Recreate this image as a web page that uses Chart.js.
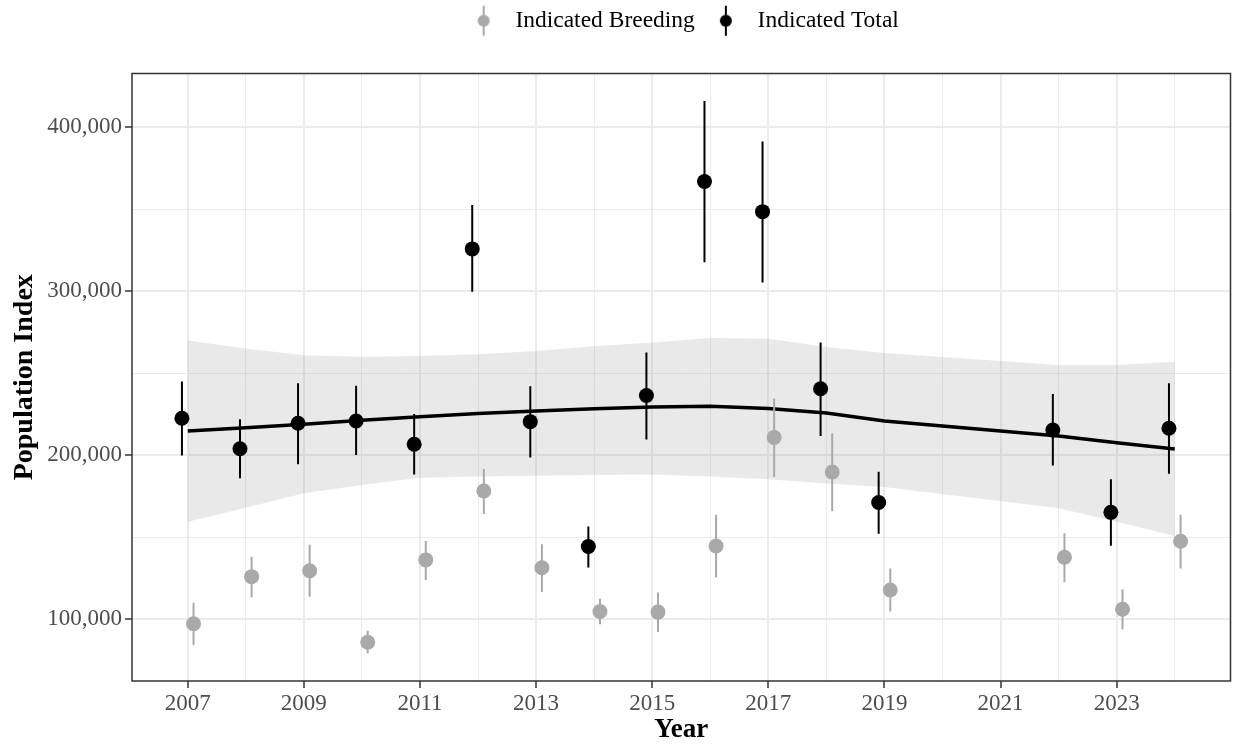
<!DOCTYPE html>
<html>
<head>
<meta charset="utf-8">
<script src="https://cdn.jsdelivr.net/npm/chart.js@4.4.1/dist/chart.umd.min.js"></script>
<style>
  html, body { margin: 0; padding: 0; background: #fff; }
  #wrap { width: 1238px; height: 744px; }
</style>
</head>
<body>
<div id="wrap"><canvas id="popChart"></canvas></div>
<script>
// years surveyed (no 2020, 2021)
const years = [2007, 2008, 2009, 2010, 2011, 2012, 2013, 2014, 2015, 2016, 2017, 2018, 2019, 2022, 2023, 2024];

// Indicated Total (thousands)
const totalIdx = [222.6, 204.0, 219.5, 220.9, 206.7, 325.8, 220.5, 144.4, 236.4, 366.9, 348.5, 240.5, 171.2, 215.4, 165.2, 216.5];
const totalLo  = [199.8, 186.0, 194.5, 200.2, 188.2, 299.6, 198.7, 131.6, 209.6, 317.6, 305.3, 211.8, 152.1, 193.7, 144.9, 188.8];
const totalHi  = [244.9, 222.0, 243.9, 242.3, 225.2, 352.6, 242.0, 156.6, 262.7, 415.9, 391.2, 268.8, 190.0, 237.4, 185.4, 243.9];

// Indicated Breeding (thousands)
const breedIdx = [97.3, 126.0, 129.6, 86.0, 136.2, 178.2, 131.4, 104.8, 104.4, 144.7, 210.9, 189.8, 117.9, 137.8, 106.1, 147.6];
const breedLo  = [84.3, 113.4, 113.8, 79.3, 124.0, 164.2, 116.6, 97.0, 92.2, 125.5, 186.7, 166.0, 104.8, 122.6, 93.9, 130.9];
const breedHi  = [110.1, 138.2, 145.5, 93.0, 147.7, 191.6, 145.8, 112.6, 116.3, 163.8, 234.6, 213.4, 131.0, 152.4, 118.3, 163.8];

// smoothed trend of the total + confidence band (thousands)
const trend   = [214.8, 216.8, 218.9, 221.3, 223.5, 225.4, 227.0, 228.3, 229.4, 229.8, 228.5, 225.7, 220.9, 211.8, 207.6, 203.8];
const trendLo = [159.5, 168.0, 176.8, 181.9, 186.3, 187.0, 187.5, 188.0, 188.2, 187.1, 185.4, 182.8, 180.6, 167.7, 159.5, 150.8];
const trendHi = [270.0, 265.0, 261.0, 260.0, 260.5, 261.5, 263.5, 266.5, 268.8, 271.5, 271.0, 266.0, 262.3, 255.0, 255.0, 257.0];

// axis ticks
const xTicks = [2007, 2008, 2009, 2010, 2011, 2012, 2013, 2014, 2015, 2016, 2017, 2018, 2019, 2020, 2021, 2022, 2023, 2024];
const yTicks = [100000, 150000, 200000, 250000, 300000, 350000, 400000];

const K = 1000;
const dodge = 0.1;
const GREY = '#A9A9A9';
const FONT = 'Liberation Serif';

// helpers
const pts = (vals, off) => years.map((yr, i) => ({ x: yr + off, y: vals[i] * K }));
const bars = (lo, hi, off) => years.flatMap((yr, i) => [
    { x: yr + off, y: lo[i] * K },
    { x: yr + off, y: hi[i] * K },
    { x: yr + off, y: null }
]);

// legend markers: dot with a vertical line
function legendMarker(color) {
    const c = document.createElement('canvas');
    c.width = 16; c.height = 32;
    const g = c.getContext('2d');
    g.strokeStyle = color; g.lineWidth = 2;
    g.beginPath(); g.moveTo(8, 1); g.lineTo(8, 31); g.stroke();
    g.fillStyle = color;
    g.beginPath(); g.arc(8, 16, 6, 0, Math.PI * 2); g.fill();
    return c;
}

// panel border on top of everything
const panelBorder = {
    id: 'panelBorder',
    afterDraw(chart) {
        const a = chart.chartArea, ctx = chart.ctx;
        ctx.save();
        ctx.strokeStyle = '#333333';
        ctx.lineWidth = 1.5;
        ctx.strokeRect(a.left, a.top, a.right - a.left, a.bottom - a.top);
        ctx.restore();
    }
};

const isMajorX = v => v % 2 === 1;
const isMajorY = v => v % 100000 === 0;

const ctx = document.getElementById('popChart').getContext('2d');
const popChart = new Chart(ctx, {
    type: 'line',
    data: {
        datasets: [
            { // band lower edge
                data: pts(trendLo, 0), borderWidth: 0, pointRadius: 0, fill: false, order: 7
            },
            { // band upper edge, filled down to lower edge
                data: pts(trendHi, 0), borderWidth: 0, pointRadius: 0,
                fill: '-1', backgroundColor: 'rgba(153,153,153,0.22)', order: 6
            },
            { // trend
                data: pts(trend, 0), borderColor: '#000', borderWidth: 3.5,
                pointRadius: 0, fill: false, tension: 0, order: 5
            },
            { // breeding error bars
                data: bars(breedLo, breedHi, dodge), borderColor: GREY, borderWidth: 2,
                pointRadius: 0, spanGaps: false, fill: false, order: 4
            },
            { // breeding points
                data: pts(breedIdx, dodge), showLine: false, pointRadius: 7.5,
                pointBackgroundColor: GREY, pointBorderWidth: 0, order: 3
            },
            { // total error bars
                data: bars(totalLo, totalHi, -dodge), borderColor: '#000', borderWidth: 2,
                pointRadius: 0, spanGaps: false, fill: false, order: 2
            },
            { // total points
                data: pts(totalIdx, -dodge), showLine: false, pointRadius: 7.5,
                pointBackgroundColor: '#000', pointBorderWidth: 0, order: 1
            }
        ]
    },
    options: {
        responsive: true,
        maintainAspectRatio: false,
        animation: false,
        layout: { padding: { top: -2, right: 1, left: 0, bottom: 0 } },
        plugins: {
            tooltip: { enabled: false },
            legend: {
                position: 'top',
                fullSize: false,
                weight: 3000,
                labels: {
                    usePointStyle: true,
                    pointStyleWidth: 40,
                    padding: 11,
                    color: '#000',
                    font: { family: FONT, size: 23.5 },
                    generateLabels: () => [
                        { text: 'Indicated Breeding', pointStyle: legendMarker(GREY), fillStyle: GREY, strokeStyle: GREY, lineWidth: 0, hidden: false },
                        { text: 'Indicated Total', pointStyle: legendMarker('#000'), fillStyle: '#000', strokeStyle: '#000', lineWidth: 0, hidden: false }
                    ]
                },
                onClick: () => {}
            },
            // empty title used as the gap between legend and panel
            title: {
                display: true,
                text: '',
                position: 'top',
                font: { size: 10, lineHeight: 1 },
                padding: { top: 6.5, bottom: 14.5 }
            }
        },
        scales: {
            x: {
                type: 'linear',
                min: 2006.04,
                max: 2024.96,
                afterBuildTicks: axis => { axis.ticks = xTicks.map(v => ({ value: v })); },
                afterFit: axis => { axis.height = 63; },
                border: { display: false },
                grid: {
                    color: '#EBEBEB',
                    lineWidth: c => isMajorX(c.tick.value) ? 2 : 1,
                    tickColor: c => isMajorX(c.tick.value) ? '#333333' : 'rgba(0,0,0,0)',
                    tickWidth: 1.5,
                    tickLength: 7
                },
                ticks: {
                    autoSkip: false,
                    maxRotation: 0,
                    padding: 2,
                    color: '#4D4D4D',
                    font: { family: FONT, size: 23 },
                    callback: v => isMajorX(v) ? String(v) : ''
                },
                title: {
                    display: true,
                    text: 'Year',
                    color: '#000',
                    padding: { top: 0, bottom: 0 },
                    font: { family: FONT, size: 27, weight: 'bold', lineHeight: 1 }
                }
            },
            y: {
                min: 62400,
                max: 432700,
                afterBuildTicks: axis => { axis.ticks = yTicks.map(v => ({ value: v })); },
                afterFit: axis => { axis.width = 132; },
                border: { display: false },
                grid: {
                    color: '#EBEBEB',
                    lineWidth: c => isMajorY(c.tick.value) ? 2 : 1,
                    tickColor: c => isMajorY(c.tick.value) ? '#333333' : 'rgba(0,0,0,0)',
                    tickWidth: 1.5,
                    tickLength: 7
                },
                ticks: {
                    padding: 3,
                    color: '#4D4D4D',
                    font: { family: FONT, size: 23 },
                    callback: v => isMajorY(v) ? v.toLocaleString('en-US') : ''
                },
                title: {
                    display: true,
                    text: 'Population Index',
                    color: '#000',
                    padding: { top: 8, bottom: 0 },
                    font: { family: FONT, size: 28, weight: 'bold' }
                }
            }
        }
    },
    plugins: [panelBorder]
});
</script>
</body>
</html>
